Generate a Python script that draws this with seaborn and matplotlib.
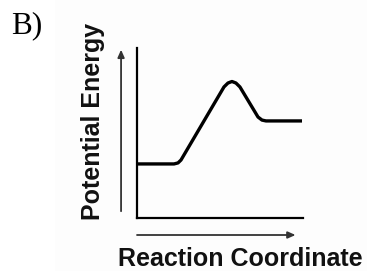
import matplotlib
matplotlib.use("Agg")
import numpy as np
import pandas as pd
import seaborn as sns
from matplotlib import pyplot as plt
from matplotlib.patches import Rectangle

# Energy profile (reaction coordinate 0-10, energy 0-10)
reaction_coord = [0.0, 2.23, 2.47, 2.65, 5.24, 5.48, 5.72, 5.96, 6.20, 7.29, 7.53, 7.77, 9.94]
potential_energy = [3.18, 3.18, 3.24, 3.41, 7.71, 7.94, 8.03, 7.94, 7.71, 5.94, 5.76, 5.71, 5.71]

panel_label = "B)"
x_label = "Reaction Coordinate"
y_label = "Potential Energy"

W, H = 367, 271
DPI = 100


def fx(px):
    return px / W


def fy(py):
    return 1 - py / H


sns.set_style("white")
plt.rcParams["font.family"] = ["Liberation Sans", "DejaVu Sans"]

fig = plt.figure(figsize=(W / DPI, H / DPI), dpi=DPI)
# the pasted diagram sits on a barely-off-white panel
fig.patches.append(Rectangle((fx(55), 0), 1 - fx(55), 1, transform=fig.transFigure,
                             facecolor="#fdfdfd", edgecolor="none", zorder=-1))

ax = fig.add_axes([fx(137), fy(218), fx(303) - fx(137), fy(48) - fy(218)])
ax.set_facecolor("none")

df = pd.DataFrame({"x": reaction_coord, "y": potential_energy})
sns.lineplot(data=df, x="x", y="y", ax=ax, color="black", linewidth=2.4,
             sort=False, solid_joinstyle="round", solid_capstyle="butt")

ax.set_xlim(0, 10)
ax.set_ylim(0, 10)
ax.set_xticks([])
ax.set_yticks([])
ax.set_xlabel("")
ax.set_ylabel("")
sns.despine(ax=ax)
for side in ("left", "bottom"):
    ax.spines[side].set_linewidth(1.6)
    ax.spines[side].set_color("black")

arrow = dict(arrowstyle="-|>,head_length=0.45,head_width=0.2", color="#333333", lw=1.3,
             shrinkA=0, shrinkB=0)
ax.annotate("", xy=(-0.096, 0.99), xytext=(-0.096, 0.04), xycoords="axes fraction",
            textcoords="axes fraction", arrowprops=arrow, annotation_clip=False)
ax.annotate("", xy=(0.955, -0.1), xytext=(0.0, -0.1), xycoords="axes fraction",
            textcoords="axes fraction", arrowprops=arrow, annotation_clip=False)

fig.text(fx(240), fy(266), x_label, ha="center", va="baseline",
         fontsize=18, fontweight="bold", color="#111111")
fig.text(fx(93), fy(121), y_label, ha="center", va="center", rotation=90,
         fontsize=18, fontweight="bold", color="#111111")
fig.text(fx(11), fy(33), panel_label, ha="left", va="baseline",
         fontsize=22.5, family=["Liberation Serif", "DejaVu Serif"], color="black")

fig.savefig("out.png", dpi=DPI)
